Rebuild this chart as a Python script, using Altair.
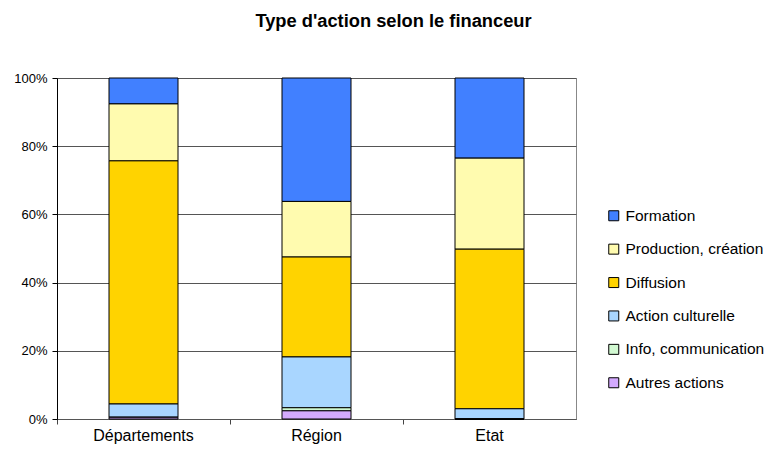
import altair as alt
import pandas as pd

financeurs = ["Départements", "Région", "Etat"]
types = ["Formation", "Production, création", "Diffusion", "Action culturelle",
         "Info, communication", "Autres actions"]
colors = ["#4180FF", "#FFFBAF", "#FFD300", "#A9D6FF", "#D2F9D2", "#D4AAFF"]

# percentages per type (same order as `types`), one list per financeur
departements = [7.6, 16.7, 71.3, 3.9, 0.0, 0.5]
region = [36.2, 16.3, 29.3, 14.9, 0.9, 2.4]
etat = [23.5, 26.7, 46.8, 3.0, 0.0, 0.0]

series = [departements, region, etat]
rows = []
for f, vals in zip(financeurs, series):
    for i, (t, v) in enumerate(zip(types, vals)):
        rows.append({"financeur": f, "type": t, "value": v,
                     "rank": len(types) - i})
df = pd.DataFrame(rows)

chart = alt.Chart(df).mark_bar(size=69, stroke="black", strokeWidth=1).encode(
    x=alt.X("financeur:N", sort=financeurs, title=None,
            scale=alt.Scale(paddingInner=0, paddingOuter=0),
            axis=alt.Axis(labelAngle=0, labelFontSize=16, labelFont="Liberation Sans",
                          labelColor="black", bandPosition=0, tickSize=5,
                          tickColor="#444", domainColor="#555", labelPadding=3,
                          grid=False)),
    y=alt.Y("value:Q", stack="normalize", title=None,
            scale=alt.Scale(domain=[0, 1]),
            axis=alt.Axis(format="%", values=[0, 0.2, 0.4, 0.6, 0.8, 1.0],
                          labelFontSize=13, labelFont="Liberation Sans",
                          labelColor="black", tickSize=5, tickColor="black",
                          domainColor="black", labelPadding=5,
                          grid=True, gridColor="#555", gridWidth=1)),
    color=alt.Color("type:N", scale=alt.Scale(domain=types, range=colors),
                    legend=alt.Legend(title=None, orient="none", legendX=549,
                                      legendY=130, symbolType="square",
                                      symbolSize=100, symbolStrokeColor="black",
                                      symbolStrokeWidth=1, labelFontSize=15.5,
                                      labelFont="Liberation Sans", labelColor="black",
                                      labelOffset=4, rowPadding=16.4, padding=0,
                                      labelLimit=0)),
    order=alt.Order("rank:Q", sort="ascending"),
).properties(
    width=519, height=341,
    title=alt.TitleParams("Type d'action selon le financeur", font="Liberation Sans",
                          fontSize=18.3, fontWeight="bold", color="black",
                          anchor="middle", dx=77, offset=41),
    autosize=alt.AutoSizeParams(type="none"),
    padding={"left": 49, "top": 70, "right": 192, "bottom": 25},
).configure_view(stroke="#888")

chart.save("out.html", embed_options={"renderer": "svg", "actions": False})
